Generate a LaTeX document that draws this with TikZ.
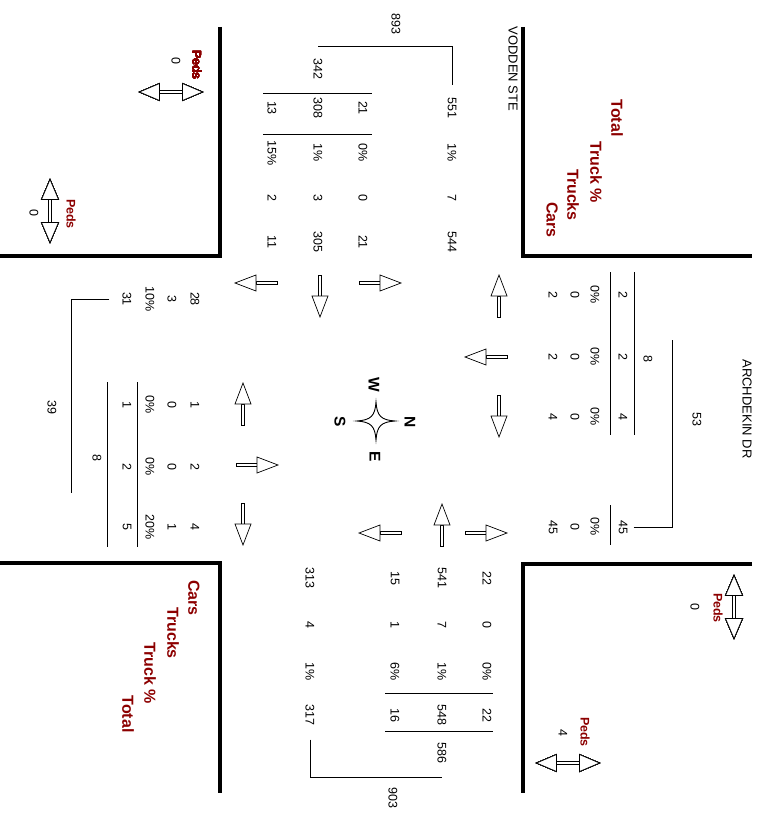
\documentclass[tikz,border=0pt]{standalone}
\usepackage{fontspec}
\setmainfont{Liberation Sans}
\usetikzlibrary{calc}
\definecolor{cntred}{RGB}{140,0,0}
\newcommand{\flowarrow}[3]{%
  \begin{scope}[shift={(#1,#2)},rotate=#3]
    \filldraw[arrowline] (-21,-1.7) rectangle (0,1.7);
    \filldraw[arrowline] (0,-8) -- (21,0) -- (0,8) -- cycle;
  \end{scope}
}
\newcommand{\pedarrow}[3]{%
  \begin{scope}[shift={(#1,#2)},rotate=#3]
    \filldraw[arrowline,line width=1.1pt] (-11.5,-1.6) rectangle (11.5,1.6);
    \filldraw[arrowline] (11.5,-8.5) -- (31.5,0) -- (11.5,8.5) -- cycle;
    \filldraw[arrowline] (-11.5,-8.5) -- (-31.5,0) -- (-11.5,8.5) -- cycle;
  \end{scope}
}
\begin{document}
\begin{tikzpicture}[x=1pt,y=-1pt,
    cnt/.style={rotate=-90,inner sep=1pt,font=\fontsize{12.5}{14}\selectfont},
    street/.style={cnt,font=\fontsize{13}{15}\selectfont},
    lgd/.style={rotate=-90,inner sep=1pt,text=cntred,font=\fontsize{16}{18}\selectfont\bfseries},
    pedlbl/.style={lgd,font=\fontsize{12.5}{14}\selectfont\bfseries},
    cmpletter/.style={rotate=-90,inner sep=1pt,font=\fontsize{15.5}{17}\selectfont\bfseries},
    curb/.style={line width=4.5pt},
    rule/.style={line width=.8pt},
    arrowline/.style={fill=white,draw=black,line width=.7pt}]
  \useasboundingbox (0,0) rectangle (758,818);
  % curbs
  \draw[curb] (220,27) -- (220,256) -- (0,256);
  \draw[curb] (523,27) -- (523,256) -- (752,256);
  \draw[curb] (0,563) -- (220,563) -- (220,793);
  \draw[curb] (752,564) -- (523,564) -- (523,793);
  % streets
  \node[street] (vodden) at (513,69) {VODDEN STE};
  \node[street] (archdekin) at (747,409) {ARCHDEKIN DR};
  % legends
  \node[lgd] (lg-tot) at (617,118) {Total};
  \node[lgd] (lg-pct) at (596,172) {Truck \%};
  \node[lgd] (lg-trk) at (573,195) {Trucks};
  \node[lgd] (lg-car) at (552,220) {Cars};
  \node[lgd] (lg2-car) at (194,598) {Cars};
  \node[lgd] (lg2-trk) at (173,633) {Trucks};
  \node[lgd] (lg2-pct) at (150,673) {Truck \%};
  \node[lgd] (lg2-tot) at (128,714) {Total};
  % west side (top)
  \foreach \xx/\tot/\pct/\trk/\car [count=\i] in {452/551/1\%/7/544,363/21/0\%/0/21,318/308/1\%/3/305,272/13/15\%/2/11}{
    \node[cnt] (w-tot-\i) at (\xx,108) {\tot};
    \node[cnt] (w-pct-\i) at (\xx,153) {\pct};
    \node[cnt] (w-trk-\i) at (\xx,198) {\trk};
    \node[cnt] (w-car-\i) at (\xx,242) {\car};
  }
  \node[cnt] (w-sum) at (318,69) {342};
  \node[cnt] (w-all) at (396,24) {893};
  \draw[rule] (263,93) -- (372,93) (263,134) -- (372,134);
  \draw[rule] ($(w-sum.west)+(0,-11)$) -| ($(w-tot-1.west)+(0,-11)$);
  % south side (left)
  \foreach \yy/\car/\trk/\pct/\tot [count=\i] in {299/28/3/10\%/31,405/1/0/0\%/1,467/2/0/0\%/2,527/4/1/20\%/5}{
    \node[cnt] (s-car-\i) at (195,\yy) {\car};
    \node[cnt] (s-trk-\i) at (172,\yy) {\trk};
    \node[cnt] (s-pct-\i) at (150,\yy) {\pct};
    \node[cnt] (s-tot-\i) at (127,\yy) {\tot};
  }
  \node[cnt] (s-sum) at (97,458) {8};
  \node[cnt] (s-all) at (52,407) {39};
  \coordinate (s-end) at (71,493);
  \draw[rule] (137,382) -- (137,547) (107,382) -- (107,547);
  \draw[rule] ($(s-tot-1.south)+(-12,0)$) -| (s-end);
  % north side (right)
  \foreach \yy/\car/\trk/\pct/\tot [count=\i] in {295/2/0/0\%/2,357/2/0/0\%/2,417/4/0/0\%/4,527/45/0/0\%/45}{
    \node[cnt] (n-car-\i) at (553,\yy) {\car};
    \node[cnt] (n-trk-\i) at (575,\yy) {\trk};
    \node[cnt] (n-pct-\i) at (595,\yy) {\pct};
    \node[cnt] (n-tot-\i) at (623,\yy) {\tot};
  }
  \node[cnt] (n-sum) at (648,359) {8};
  \node[cnt] (n-all) at (697,419) {53};
  \coordinate (n-end) at (672,340);
  \draw[rule] (634,272) -- (634,435) (610,272) -- (610,435) (610,505) -- (610,545);
  \draw[rule] ($(n-tot-4.north)+(5,0)$) -| (n-end);
  % east side (bottom)
  \foreach \xx/\car/\trk/\pct/\tot [count=\i] in {487/22/0/0\%/22,442/541/7/1\%/548,395/15/1/6\%/16,310/313/4/1\%/317}{
    \node[cnt] (e-car-\i) at (\xx,578) {\car};
    \node[cnt] (e-trk-\i) at (\xx,625) {\trk};
    \node[cnt] (e-pct-\i) at (\xx,672) {\pct};
    \node[cnt] (e-tot-\i) at (\xx,715) {\tot};
  }
  \node[cnt] (e-sum) at (442,753) {586};
  \node[cnt] (e-all) at (393,798) {903};
  \draw[rule] (385,693) -- (493,693) (385,731) -- (493,731);
  \draw[rule] ($(e-tot-4.east)+(0,13)$) |- ($(e-sum.east)+(0,13)$);
  % movement arrows
  \foreach \ax/\ay/\ang in {256/283/180,320/296/-90,380/283/0,499/296/90,486/357/180,499/416/-90,
      243/404/90,257/465/0,243/524/-90,380/533/180,442/525/90,486/533/0}
    \flowarrow{\ax}{\ay}{\ang}
  % pedestrians
  \pedarrow{171}{92}{0}
  \pedarrow{50}{211}{90}
  \pedarrow{734}{607}{90}
  \pedarrow{568}{763}{0}
  \node[pedlbl] (ped-w) at (197,65) {Peds};
  \node[cnt] (ped-w-n) at (176,61) {0};
  \node[pedlbl] (ped-s) at (71,214) {Peds};
  \node[cnt] (ped-s-n) at (34,213) {0};
  \node[pedlbl] (ped-n) at (718,608) {Peds};
  \node[cnt] (ped-n-n) at (695,607) {0};
  \node[pedlbl] (ped-e) at (585,732) {Peds};
  \node[cnt] (ped-e-n) at (563,733) {4};
  % compass
  \begin{scope}[shift={(376,421)}]
    \filldraw[arrowline,line width=.9pt] (0,-19) .. controls (1,-5) and (5,-1) .. (19,0)
      .. controls (5,1) and (1,5) .. (0,19) .. controls (-1,5) and (-5,1) .. (-19,0)
      .. controls (-5,-1) and (-1,-5) .. (0,-19) -- cycle;
  \end{scope}
  \node[cmpletter] (cmp-w) at (374,385) {W};
  \node[cmpletter] (cmp-n) at (410,422) {N};
  \node[cmpletter] (cmp-e) at (375,457) {E};
  \node[cmpletter] (cmp-s) at (340,422) {S};
\end{tikzpicture}
\end{document}
